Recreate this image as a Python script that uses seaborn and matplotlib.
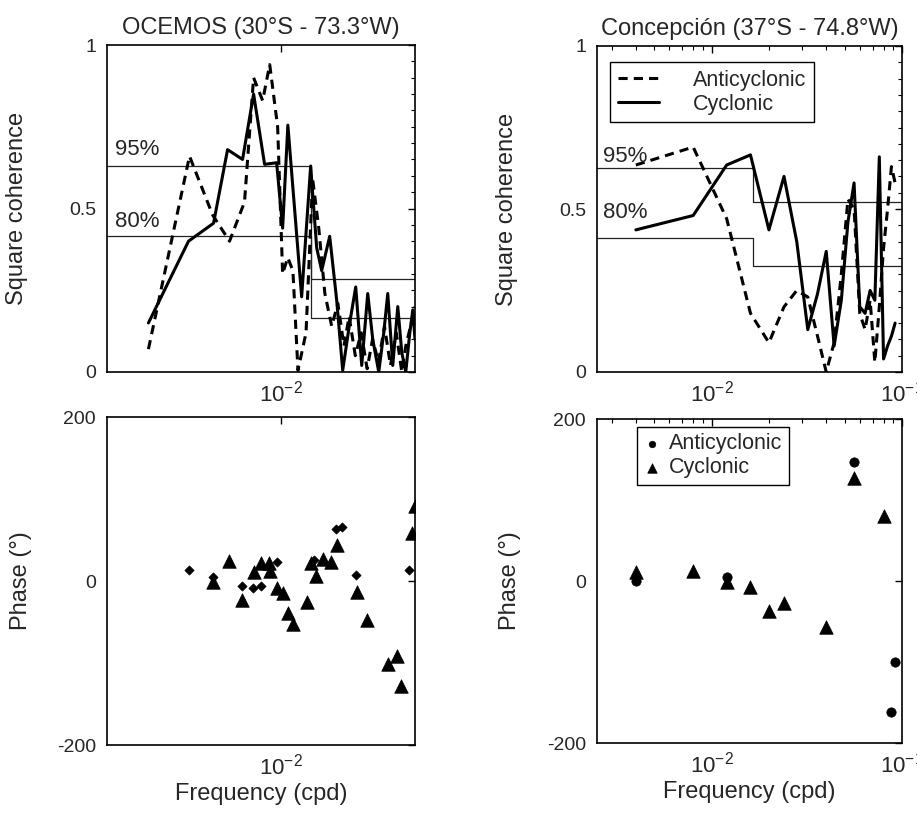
import matplotlib
matplotlib.use("Agg")
import matplotlib.pyplot as plt
import matplotlib.font_manager as fm
from matplotlib.ticker import FixedLocator, MultipleLocator, NullLocator, LogLocator, NullFormatter
import pandas as pd
import seaborn as sns

# ---------------- data ----------------
# OCEMOS coherence (frequency in cpd)
oc_cyc_f = [0.002053, 0.003318, 0.004478, 0.005297, 0.006339, 0.007235, 0.008254, 0.009532,
            0.010243, 0.010906, 0.012863, 0.014330, 0.015399, 0.016352, 0.017999, 0.019572,
            0.021032, 0.022874, 0.024582, 0.026416, 0.028387, 0.030142, 0.032391, 0.034393,
            0.036081, 0.038312, 0.040682, 0.042679, 0.044774, 0.046971, 0.048697, 0.0500]
oc_cyc_c = [0.15, 0.40, 0.455, 0.68, 0.65, 0.85, 0.635, 0.64,
            0.44, 0.755, 0.23, 0.63, 0.38, 0.31, 0.415, 0.22,
            0.005, 0.15, 0.26, 0.02, 0.24, 0.10, 0.0, 0.12,
            0.24, 0.02, 0.20, 0.06, 0.0, 0.12, 0.19, 0.10]

oc_anti_f = [0.002053, 0.003358, 0.004431, 0.005425, 0.006489, 0.007235, 0.008064, 0.008776,
             0.009650, 0.010243, 0.010886, 0.011584, 0.012310, 0.013557, 0.014676, 0.015789,
             0.016987, 0.018442, 0.019840, 0.021347, 0.022715, 0.024452, 0.026252, 0.028186,
             0.030072, 0.032278, 0.034698, 0.037266, 0.039954, 0.042679, 0.044774, 0.046971,
             0.0500]
oc_anti_c = [0.07, 0.66, 0.48, 0.40, 0.52, 0.90, 0.83, 0.94,
             0.75, 0.30, 0.35, 0.31, 0.005, 0.12, 0.59, 0.44,
             0.24, 0.14, 0.21, 0.08, 0.17, 0.05, 0.12, 0.01,
             0.10, 0.03, 0.14, 0.02, 0.12, 0.0, 0.08, 0.13,
             0.20]

oc_sig_f = [0.00125, 0.01445, 0.05]
oc_sig95 = [0.63, 0.285, 0.285]
oc_sig80 = [0.415, 0.165, 0.165]

# Concepcion coherence
co_f = [0.004, 0.008, 0.012, 0.016, 0.020, 0.024, 0.028, 0.032, 0.036, 0.040, 0.044, 0.048,
        0.052, 0.056, 0.060, 0.064, 0.068, 0.072, 0.076, 0.080, 0.084, 0.088, 0.092]
co_anti_c = [0.635, 0.69, 0.47, 0.18, 0.09, 0.20, 0.25, 0.23, 0.11, 0.0, 0.09, 0.30,
             0.53, 0.50, 0.18, 0.13, 0.22, 0.03, 0.20, 0.38, 0.50, 0.63, 0.58]
co_cyc_c = [0.436, 0.48, 0.635, 0.666, 0.436, 0.60, 0.40, 0.13, 0.24, 0.37, 0.08, 0.22,
            0.46, 0.58, 0.20, 0.18, 0.25, 0.22, 0.66, 0.04, 0.08, 0.11, 0.15]

co_sig_f = [0.0025, 0.01656, 0.1]
co_sig95 = [0.627, 0.52, 0.52]
co_sig80 = [0.412, 0.326, 0.326]

# OCEMOS phase
oc_ph_anti_f = [0.003331, 0.004441, 0.006263, 0.007173, 0.007934, 0.009532, 0.014906,
                0.019343, 0.020785, 0.024582, 0.046581]
oc_ph_anti = [14, 4.5, -6, -8, -6, 23, 26, 64, 66, 7, 13]
oc_ph_cyc_f = [0.00444, 0.00538, 0.00631, 0.007261, 0.007934, 0.008693, 0.00877, 0.009532,
               0.010329, 0.010915, 0.01159, 0.013657, 0.01433, 0.015214, 0.01661, 0.018217,
               0.019572, 0.024878, 0.028044, 0.036215, 0.040194, 0.04217, 0.048522, 0.049885]
oc_ph_cyc = [-1, 25, -23, 11, 22, 22, 12.5, -8,
             -15, -39, -52, -25, 22, 6, 27, 23.5,
             44, -14, -47, -101, -91.5, -128, 58, 91]

# Concepcion phase
co_ph_anti_f = [0.004, 0.012, 0.056, 0.088, 0.092]
co_ph_anti = [0, 5, 147, -162, -100]
co_ph_cyc_f = [0.004, 0.008, 0.012, 0.016, 0.020, 0.024, 0.040, 0.056, 0.080]
co_ph_cyc = [11.5, 12.7, -1, -7, -37, -27, -57, 127, 80]

titles = ["OCEMOS (30°S - 73.3°W)", "Concepción (37°S - 74.8°W)"]

# ---------------- style ----------------
sns.set_theme(style="white")
names = {f.name for f in fm.fontManager.ttflist}
font = "Liberation Sans" if "Liberation Sans" in names else "DejaVu Sans"
plt.rcParams["font.family"] = [font, "DejaVu Sans"]
plt.rcParams["mathtext.fontset"] = "custom"
plt.rcParams["mathtext.rm"] = font
plt.rcParams["mathtext.it"] = font
plt.rcParams["axes.edgecolor"] = "black"
plt.rcParams["axes.linewidth"] = 1.2

fig = plt.figure(figsize=(9.17, 8.14), dpi=100)
W, H = 917, 814


def add_ax(x0, x1, y0, y1):
    return fig.add_axes([x0 / W, 1 - y1 / H, (x1 - x0) / W, (y1 - y0) / H])


ax_tl = add_ax(107, 415, 45, 372)
ax_tr = add_ax(597, 902, 46, 372)
ax_bl = add_ax(107, 415, 417, 745)
ax_br = add_ax(597, 902, 419, 743)

DASH = (0, (3, 2))
LW = 2.2
TICK_FS = 14
XTICK_FS = 16
LAB_FS = 17


def style_axis(ax, right_panel, top_panel):
    ax.set_xscale("log")
    if right_panel:
        ax.set_xlim(0.0025, 0.1)
        ax.xaxis.set_major_locator(FixedLocator([0.01, 0.1]))
        ax.xaxis.set_minor_locator(LogLocator(base=10, subs=range(2, 10), numticks=20))
    else:
        ax.set_xlim(0.00125, 0.05)
        ax.xaxis.set_major_locator(FixedLocator([0.01]))
        ax.xaxis.set_minor_locator(NullLocator())
    ax.xaxis.set_minor_formatter(NullFormatter())
    if top_panel:
        ax.set_ylim(0, 1)
        ax.set_yticks([0, 0.5, 1])
        ax.set_yticklabels(["0", "0.5", "1"])
        ax.yaxis.set_minor_locator(MultipleLocator(0.05))
    else:
        ax.set_ylim(-200, 200)
        ax.set_yticks([-200, 0, 200])
        ax.set_yticklabels(["-200", "0", "200"])
        ax.yaxis.set_minor_locator(NullLocator())
    ax.tick_params(which="both", direction="in", top=True, right=True,
                   color="black", pad=8)
    ax.tick_params(axis="y", labelsize=TICK_FS)
    ax.tick_params(axis="x", labelsize=XTICK_FS, pad=6)
    ax.tick_params(which="major", length=5, width=1)
    ax.tick_params(which="minor", length=3, width=0.8)
    for s in ax.spines.values():
        s.set_visible(True)
        s.set_color("black")
        s.set_linewidth(1.2)
    ax.set_xlabel("")
    ax.set_ylabel("")
    ax.grid(False)


# ---- top left ----
ax = ax_tl
sns.lineplot(x=oc_sig_f, y=oc_sig95, ax=ax, color="#222222", lw=0.9, drawstyle="steps-post")
sns.lineplot(x=oc_sig_f, y=oc_sig80, ax=ax, color="#222222", lw=0.9, drawstyle="steps-post")
sns.lineplot(x=oc_anti_f, y=oc_anti_c, ax=ax, color="black", lw=LW, linestyle=DASH)
sns.lineplot(x=oc_cyc_f, y=oc_cyc_c, ax=ax, color="black", lw=LW)
style_axis(ax, False, True)
ax.text(0.025, 0.68, "95%", transform=ax.transAxes, fontsize=16, va="center", ha="left")
ax.text(0.025, 0.46, "80%", transform=ax.transAxes, fontsize=16, va="center", ha="left")
ax.set_ylabel("Square coherence", fontsize=LAB_FS)
ax.yaxis.set_label_coords(-0.256, 0.5)
ax.set_title(titles[0], fontsize=17, pad=8)

# ---- top right ----
ax = ax_tr
sns.lineplot(x=co_sig_f, y=co_sig95, ax=ax, color="#222222", lw=0.9, drawstyle="steps-post")
sns.lineplot(x=co_sig_f, y=co_sig80, ax=ax, color="#222222", lw=0.9, drawstyle="steps-post")
sns.lineplot(x=co_f, y=co_anti_c, ax=ax, color="black", lw=LW, linestyle=DASH, label="Anticyclonic")
sns.lineplot(x=co_f, y=co_cyc_c, ax=ax, color="black", lw=LW, label="Cyclonic")
style_axis(ax, True, True)
ax.text(0.02, 0.66, "95%", transform=ax.transAxes, fontsize=16, va="center", ha="left")
ax.text(0.02, 0.49, "80%", transform=ax.transAxes, fontsize=16, va="center", ha="left")
ax.set_ylabel("Square coherence", fontsize=LAB_FS)
ax.yaxis.set_label_coords(-0.259, 0.5)
ax.set_title(titles[1], fontsize=17, pad=8)
leg = ax.legend(loc="upper left", bbox_to_anchor=(0.043, 0.951), borderaxespad=0,
                fontsize=15.5, frameon=True, fancybox=False, framealpha=1,
                edgecolor="black", handlelength=1.9, handletextpad=1.6,
                borderpad=0.35, labelspacing=0.15)
leg.get_frame().set_linewidth(1.0)

# ---- bottom left ----
ax = ax_bl
sns.scatterplot(x=oc_ph_anti_f, y=oc_ph_anti, ax=ax, marker="D", s=22, color="black",
                edgecolor="black", linewidth=0.5)
sns.scatterplot(x=oc_ph_cyc_f, y=oc_ph_cyc, ax=ax, marker="^", s=95, color="black",
                edgecolor="black", linewidth=0.5)
style_axis(ax, False, False)
ax.set_ylabel("Phase (°)", fontsize=LAB_FS)
ax.yaxis.set_label_coords(-0.243, 0.5)
ax.set_xlabel("Frequency (cpd)", fontsize=LAB_FS, labelpad=3)

# ---- bottom right ----
ax = ax_br
sns.scatterplot(x=co_ph_anti_f, y=co_ph_anti, ax=ax, marker="o", s=45, color="black",
                edgecolor="black", linewidth=0.5, label="Anticyclonic")
sns.scatterplot(x=co_ph_cyc_f, y=co_ph_cyc, ax=ax, marker="^", s=95, color="black",
                edgecolor="black", linewidth=0.5, label="Cyclonic")
style_axis(ax, True, False)
ax.set_ylabel("Phase (°)", fontsize=LAB_FS)
ax.yaxis.set_label_coords(-0.25, 0.5)
ax.set_xlabel("Frequency (cpd)", fontsize=LAB_FS, labelpad=3)
leg2 = ax.legend(loc="upper left", bbox_to_anchor=(0.13, 0.976), borderaxespad=0,
                 fontsize=15.5, frameon=True, fancybox=False, framealpha=1,
                 edgecolor="black", handlelength=0.8, handletextpad=0.4,
                 borderpad=0.3, labelspacing=0.15, markerscale=0.7)
leg2.get_frame().set_linewidth(1.0)

fig.savefig("out.png", dpi=100, facecolor="white")
